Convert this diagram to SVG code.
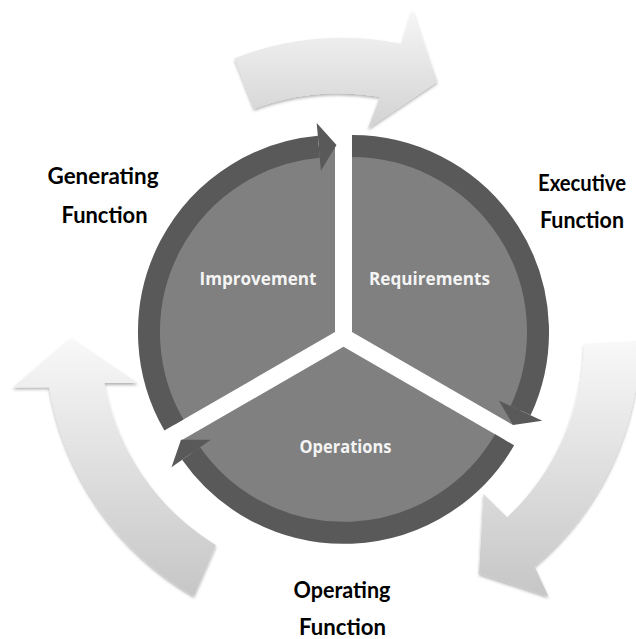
<svg xmlns="http://www.w3.org/2000/svg" width="636" height="639" viewBox="0 0 636 639">
  <defs>
    <linearGradient id="gTop" x1="0" y1="0" x2="0" y2="1">
      <stop offset="0" stop-color="#f6f6f6"/>
      <stop offset="1" stop-color="#d2d2d2"/>
    </linearGradient>
    <linearGradient id="gSide" x1="0" y1="0" x2="0" y2="1">
      <stop offset="0" stop-color="#f8f8f8"/>
      <stop offset="1" stop-color="#c6c6c6"/>
    </linearGradient>
    <filter id="sh" x="-15%" y="-15%" width="130%" height="130%">
      <feDropShadow dx="0" dy="2" stdDeviation="1.6" flood-color="#000" flood-opacity="0.3"/>
    </filter>
    <style>
      .sector { fill: #808080; }
      .ring { fill: none; stroke: #595959; stroke-width: 22; }
      .head { fill: #595959; }
      .big { filter: url(#sh); }
      .inner { font-family: "Open Sans", Lato, sans-serif; font-weight: bold; font-size: 17px; fill: #f4f4f4; text-anchor: middle; }
      .outer { font-family: Lato, "Open Sans", sans-serif; font-weight: bold; font-size: 22px; fill: #000000; text-anchor: middle; }
    </style>
  </defs>
  <rect width="636" height="639" fill="#ffffff"/>

  <g id="connectors">
    <path id="arrow-generating" class="big" fill="url(#gTop)" d="M234.5,58.3 A300 300 0 0 1 401.8,43.8 L412.6,10.3 L437.3,81.8 L368,128.5 L379.9,96.8 A245 245 0 0 0 254,108.7 Z"/>
    <path id="arrow-executive" class="big" fill="url(#gSide)" d="M640,341 A298 298 0 0 1 534.5,566.3 L548.4,596.3 L479,573.6 L483.5,494 L507.2,517.2 A243 243 0 0 0 584,344 Z"/>
    <path id="arrow-operating" class="big" fill="url(#gSide)" d="M194,596.1 A298 298 0 0 1 49.1,387.2 L12.7,387.4 L71,338 L137.9,383.1 L104.2,383.1 A243 243 0 0 0 216,545.2 Z"/>
  </g>

  <g id="node-improvement">
    <path class="sector" d="M335,332.1 L173.9,425.1 A186 186 0 0 1 335,146.1 Z"/>
    <path class="ring" d="M173.9,425.1 A186 186 0 0 1 318.8,146.8"/>
    <polygon class="head" points="316.7,122.9 336.5,145 320.9,170.7"/>
    <text class="inner" x="258" y="285" textLength="117" lengthAdjust="spacingAndGlyphs">Improvement</text>
  </g>

  <g id="node-requirements">
    <path class="sector" d="M352,332.1 L352,146.1 A186 186 0 0 1 513.1,425.1 Z"/>
    <path class="ring" d="M352,146.1 A186 186 0 0 1 520.6,410.7"/>
    <polygon class="head" points="498.8,400.6 542.3,420.8 513.1,425.1"/>
    <text class="inner" x="429.5" y="285" textLength="121" lengthAdjust="spacingAndGlyphs">Requirements</text>
  </g>

  <g id="node-operations">
    <path class="sector" d="M343.5,346.8 L504.6,439.8 A186 186 0 0 1 182.4,439.8 Z"/>
    <path class="ring" d="M504.6,439.8 A186 186 0 0 1 191.1,453.5"/>
    <polygon class="head" points="210.8,439.7 171.5,467.3 181,439.8"/>
    <text class="inner" x="345.5" y="453" textLength="92" lengthAdjust="spacingAndGlyphs">Operations</text>
  </g>

  <g id="label-generating">
    <text class="outer" x="103" y="184" textLength="111" lengthAdjust="spacingAndGlyphs">Generating</text>
    <text class="outer" x="104.5" y="223" textLength="86" lengthAdjust="spacingAndGlyphs">Function</text>
  </g>
  <g id="label-executive">
    <text class="outer" x="582" y="190.5" textLength="88" lengthAdjust="spacingAndGlyphs">Executive</text>
    <text class="outer" x="582" y="228" textLength="84" lengthAdjust="spacingAndGlyphs">Function</text>
  </g>
  <g id="label-operating">
    <text class="outer" x="342" y="598" textLength="97" lengthAdjust="spacingAndGlyphs">Operating</text>
    <text class="outer" x="342.5" y="635" textLength="87" lengthAdjust="spacingAndGlyphs">Function</text>
  </g>
</svg>
